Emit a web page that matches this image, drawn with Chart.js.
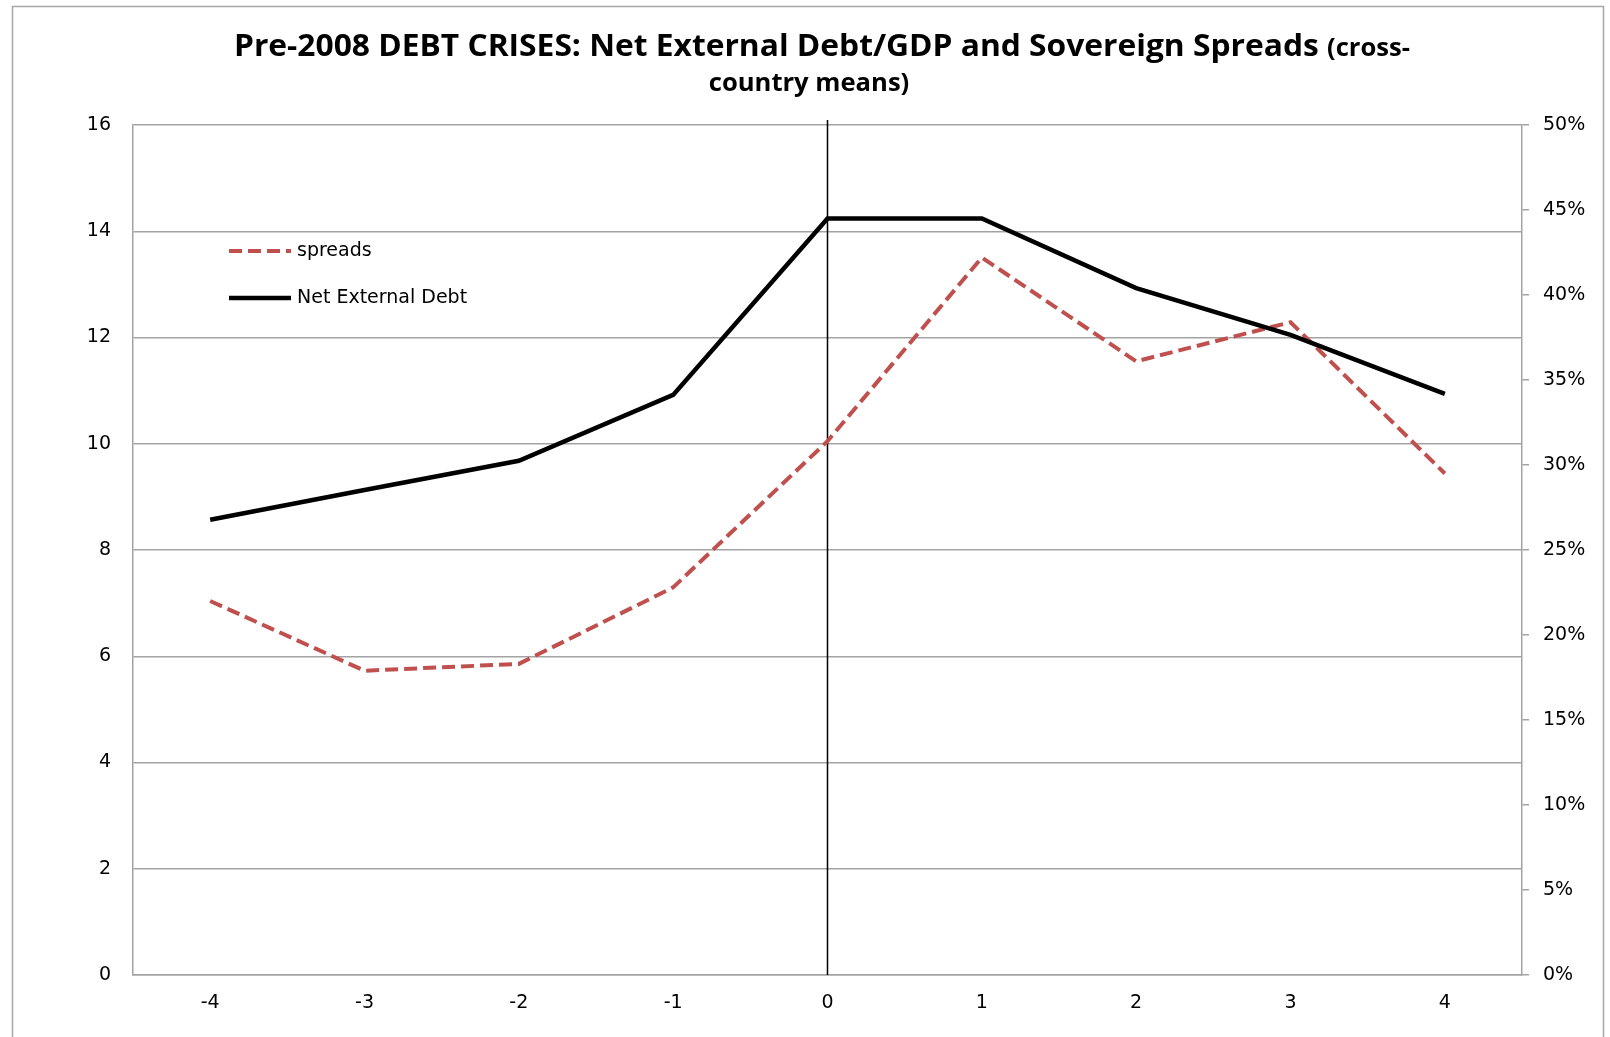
<!DOCTYPE html>
<html lang="en">
<head>
    <meta charset="UTF-8">
    <title>Pre-2008 Debt Crises</title>
    <script src="https://cdn.jsdelivr.net/npm/chart.js@4.4.0/dist/chart.umd.min.js"></script>
    <style>
        body {
            margin: 0;
            padding: 0;
            background: #ffffff;
            overflow: hidden;
        }
        canvas {
            display: block;
        }
    </style>
</head>
<body>
    <canvas id="debtCanvas" width="1610" height="1037"></canvas>
    <script>
        // years relative to the crisis
        const years = ['-4', '-3', '-2', '-1', '0', '1', '2', '3', '4'];
        // net external debt / GDP (left axis)
        const netExternalDebt = [8.57, 9.13, 9.68, 10.92, 14.24, 14.24, 12.93, 12.05, 10.94];
        // sovereign spreads (right axis, share)
        const spreads = [0.220, 0.179, 0.183, 0.228, 0.314, 0.422, 0.361, 0.384, 0.295];

        const leftTicks = { min: 0, max: 16, step: 2 };
        const rightTicks = { min: 0, max: 0.5, step: 0.05 };

        const titleMain = 'Pre-2008 DEBT CRISES: Net External Debt/GDP and Sovereign Spreads ';
        const titleSmall1 = '(cross-';
        const titleSmall2 = 'country means)';

        const gridGray = '#a3a3a3';
        const labelFont = { family: "'DejaVu Sans', sans-serif", size: 19 };

        // outer frame + title, drawn on the canvas
        const framePlugin = {
            id: 'frame',
            beforeDraw(chart) {
                const c = chart.ctx;
                c.save();
                c.fillStyle = '#fff';
                c.fillRect(0, 0, chart.width, chart.height);
                c.strokeStyle = '#a6a6a6';
                c.lineWidth = 1.5;
                c.strokeRect(12.5, 6.5, 1591, 1040);
                c.restore();
            },
            afterDraw(chart) {
                const c = chart.ctx;
                c.save();
                c.fillStyle = '#000';
                c.textBaseline = 'alphabetic';
                const bigFont = "bold 31px 'Liberation Sans Narrow', 'Open Sans', sans-serif";
                const smallFont = "bold 25px 'Liberation Sans Narrow', 'Open Sans', sans-serif";
                c.font = bigFont;
                const w1 = c.measureText(titleMain).width;
                c.font = smallFont;
                const w2 = c.measureText(titleSmall1).width;
                const targetW = 1176;
                const sx = targetW / (w1 + w2);
                // line 1
                c.save();
                c.translate(234, 56);
                c.scale(sx, 1);
                c.font = bigFont;
                c.textAlign = 'left';
                c.fillText(titleMain, 0, 0);
                c.font = smallFont;
                c.fillText(titleSmall1, w1, 0);
                c.restore();
                // line 2
                c.save();
                c.translate(809, 91);
                c.scale(sx, 1);
                c.font = smallFont;
                c.textAlign = 'center';
                c.fillText(titleSmall2, 0, 0);
                c.restore();
                c.restore();
            }
        };

        // vertical marker at the crisis year
        const crisisLinePlugin = {
            id: 'crisisLine',
            beforeDatasetsDraw(chart) {
                const x = chart.scales.x.getPixelForValue(years.indexOf('0'));
                const area = chart.chartArea;
                const c = chart.ctx;
                c.save();
                c.strokeStyle = '#000';
                c.lineWidth = 1.5;
                c.beginPath();
                c.moveTo(x, area.top - 5);
                c.lineTo(x, area.bottom);
                c.stroke();
                c.restore();
            }
        };

        // legend inside the plot area, top left
        const insideLegendPlugin = {
            id: 'insideLegend',
            afterDatasetsDraw(chart) {
                const c = chart.ctx;
                const rows = [
                    { ds: chart.data.datasets[0], y: 251 },
                    { ds: chart.data.datasets[1], y: 298 }
                ];
                c.save();
                rows.forEach(r => {
                    c.strokeStyle = r.ds.borderColor;
                    c.lineWidth = r.ds.borderWidth;
                    c.setLineDash(r.ds.borderDash || []);
                    c.lineCap = 'butt';
                    c.beginPath();
                    c.moveTo(229, r.y);
                    c.lineTo(291, r.y);
                    c.stroke();
                    c.setLineDash([]);
                    c.fillStyle = '#000';
                    c.font = "19px 'DejaVu Sans', sans-serif";
                    c.textBaseline = 'middle';
                    c.fillText(r.ds.label, 297, r.y);
                });
                c.restore();
            }
        };

        const ctx = document.getElementById('debtCanvas').getContext('2d');
        const debtChart = new Chart(ctx, {
            type: 'line',
            data: {
                labels: years,
                datasets: [{
                    label: 'spreads',
                    data: spreads,
                    yAxisID: 'y1',
                    borderColor: '#c0504d',
                    borderWidth: 4,
                    borderDash: [13, 6],
                    pointRadius: 0,
                    tension: 0,
                    order: 2
                }, {
                    label: 'Net External Debt',
                    data: netExternalDebt,
                    yAxisID: 'y',
                    borderColor: '#000000',
                    borderWidth: 4.5,
                    pointRadius: 0,
                    tension: 0,
                    order: 1
                }]
            },
            options: {
                responsive: false,
                animation: false,
                layout: { padding: { top: 125, left: 0, right: 0, bottom: 0 } },
                plugins: {
                    legend: { display: false },
                    title: { display: false },
                    tooltip: { enabled: false }
                },
                scales: {
                    x: {
                        offset: true,
                        grid: { display: false, drawTicks: false },
                        border: { display: true, color: gridGray, width: 1.5 },
                        ticks: { color: '#000', font: labelFont, padding: 17, maxRotation: 0 },
                        afterFit(scale) { scale.height = 62; }
                    },
                    y: {
                        position: 'left',
                        min: leftTicks.min,
                        max: leftTicks.max,
                        ticks: { stepSize: leftTicks.step, color: '#000', font: labelFont, padding: 22 },
                        grid: { color: gridGray, lineWidth: 1.5, drawTicks: false },
                        border: { display: true, color: gridGray, width: 1.5 },
                        afterFit(scale) { scale.width = 133; }
                    },
                    y1: {
                        position: 'right',
                        min: rightTicks.min,
                        max: rightTicks.max,
                        ticks: {
                            stepSize: rightTicks.step,
                            color: '#000',
                            font: labelFont,
                            padding: 14,
                            callback: v => Math.round(v * 100) + '%'
                        },
                        grid: { drawOnChartArea: false, drawTicks: true, tickLength: 7, color: gridGray, lineWidth: 1.5 },
                        border: { display: true, color: gridGray, width: 1.5 },
                        afterFit(scale) { scale.width = 88; }
                    }
                }
            },
            plugins: [framePlugin, crisisLinePlugin, insideLegendPlugin]
        });
    </script>
</body>
</html>
